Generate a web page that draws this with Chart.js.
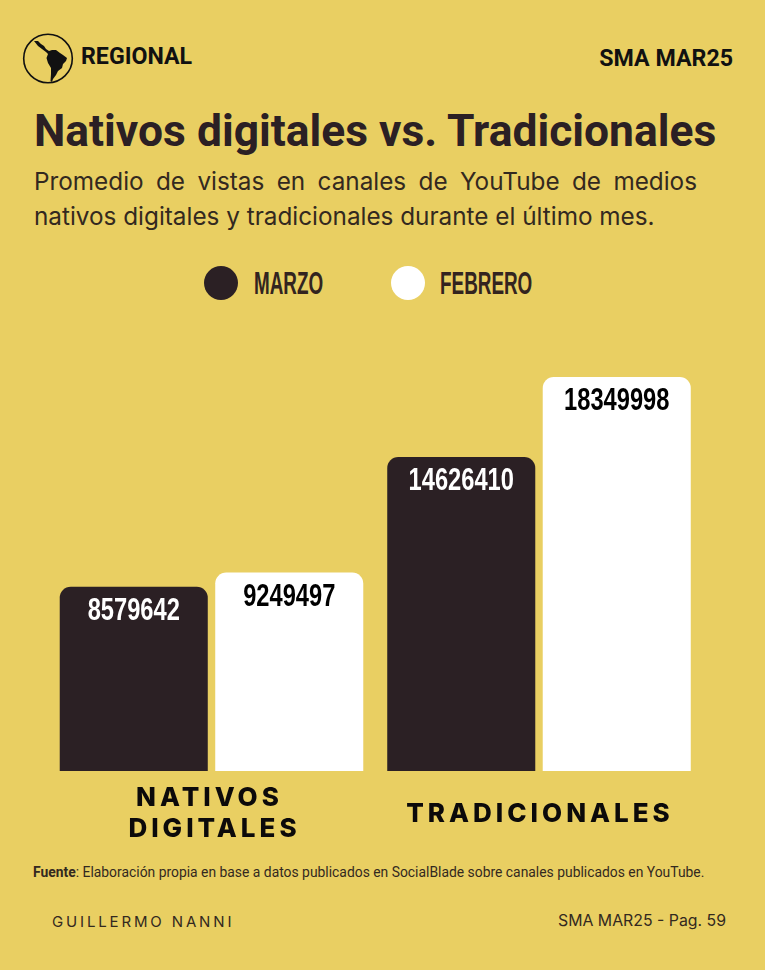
<!DOCTYPE html>
<html lang="es">
<head>
    <meta charset="UTF-8">
    <title>Nativos digitales vs. Tradicionales</title>
    <script src="https://cdn.jsdelivr.net/npm/chart.js"></script>
    <style>
        html, body { margin: 0; padding: 0; }
        body { width: 765px; height: 970px; background: #e9cf62; position: relative; overflow: hidden; color: #2b2024; font-family: Roboto, sans-serif; }
        .t { position: absolute; white-space: nowrap; line-height: 1; }
        #globo { position: absolute; left: 22px; top: 33px; }
        #region { left: 81px; top: 45px; font-size: 23.2px; font-weight: 700; color: #111; }
        #edicion { right: 32px; top: 47px; font-size: 23.2px; font-weight: 700; color: #111; }
        #titulo { left: 34px; top: 108.5px; font-size: 44.4px; font-weight: 700; }
        .sub { left: 34px; font-family: Inter, sans-serif; font-size: 24.3px; color: #33291f; }
        #sub1 { top: 169px; width: 663px; text-align: justify; text-align-last: justify; }
        #sub2 { top: 203.5px; }
        #leyenda .punto { position: absolute; top: 266px; width: 34px; height: 34px; border-radius: 50%; }
        #leyenda .nombre { position: absolute; top: 266px; font-family: "Liberation Sans", sans-serif; font-weight: 700; font-size: 32px; line-height: 34px; transform-origin: left center; transform: scaleX(0.59); white-space: nowrap; color: #33241f; }
        #grafico { position: absolute; left: 0; top: 300px; }
        #fuente { left: 33px; top: 866px; font-size: 13.88px; color: #33291f; }
        #autor { left: 52px; top: 914px; font-family: Inter, sans-serif; font-size: 15px; letter-spacing: 2.85px; color: #33291f; }
        #pagina { right: 39px; top: 913px; font-family: Inter, sans-serif; font-size: 15.85px; color: #33291f; }
    </style>
</head>
<body>
    <!-- globito de la seccion -->
    <svg id="globo" width="52" height="52" viewBox="22 33 52 52">
        <circle cx="48" cy="58.5" r="24.3" fill="none" stroke="#111" stroke-width="1.6"/>
        <path fill="#111" d="M34 41 L38 41 L41 44 L44 46 L46 49 L49 51 L52 50 L56 50 L60 53 L63 55 L67 58 L66 61 L63 64 L62 68 L58 71 L56 75 L53 79 L52 82 L50.5 81 L51 74 L51 68 L48 63 L46.5 58 L48 54 L46 52 L42 49 L38 46 Z"/>
    </svg>
    <div class="t" id="region">REGIONAL</div>
    <div class="t" id="edicion">SMA MAR25</div>
    <div class="t" id="titulo">Nativos digitales vs. Tradicionales</div>
    <div class="t sub" id="sub1">Promedio de vistas en canales de YouTube de medios</div>
    <div class="t sub" id="sub2">nativos digitales y tradicionales durante el último mes.</div>
    <div id="leyenda"></div>

    <canvas id="grafico" width="765" height="560"></canvas>

    <div class="t" id="fuente"><b>Fuente</b>: Elaboración propia en base a datos publicados en SocialBlade sobre canales publicados en YouTube.</div>
    <div class="t" id="autor">GUILLERMO NANNI</div>
    <div class="t" id="pagina">SMA MAR25 - Pag. 59</div>

    <script>
        // Datos del grafico
        const categorias = [["NATIVOS", "DIGITALES"], ["TRADICIONALES"]];
        const series = ["MARZO", "FEBRERO"];
        const marzo = [8579642, 14626410];
        const febrero = [9249497, 18349998];

        const colorOscuro = "#2b2024";
        const colorBlanco = "#ffffff";
        const escalaMax = 20000000;

        // Leyenda en HTML porque la letra va angosta
        const posLeyenda = [[204, 254], [391, 440]];
        const coloresLeyenda = [colorOscuro, colorBlanco];
        series.forEach((nombre, i) => {
            document.getElementById("leyenda").innerHTML +=
                `<div class="punto" style="left:${posLeyenda[i][0]}px;background:${coloresLeyenda[i]}"></div>` +
                `<div class="nombre" style="left:${posLeyenda[i][1]}px">${nombre}</div>`;
        });

        // Numeros dentro de las barras y nombres de categoria debajo
        const etiquetas = {
            id: "etiquetas",
            afterDatasetsDraw(chart) {
                const ctx = chart.ctx;
                chart.data.datasets.forEach((ds, d) => {
                    chart.getDatasetMeta(d).data.forEach((barra, i) => {
                        ctx.save();
                        ctx.translate(barra.x, barra.y + 24.5);
                        ctx.scale(0.74, 1);
                        ctx.font = "700 32px 'Liberation Sans'";
                        ctx.textAlign = "center";
                        ctx.textBaseline = "middle";
                        ctx.fillStyle = d === 0 ? "#ffffff" : "#000000";
                        ctx.fillText(String(ds.data[i]), 0, 0);
                        ctx.restore();
                    });
                });

                const x = chart.scales.x;
                categorias.forEach((lineas, i) => {
                    const cx = x.getPixelForValue(i);
                    const medio = 814 - 300;
                    lineas.forEach((linea, j) => {
                        // en el original la primera linea queda corrida a la izquierda
                        const corrimiento = lineas.length > 1 ? (j === 0 ? -2 : 3) : 1;
                        ctx.save();
                        ctx.font = "800 26px Inter";
                        ctx.letterSpacing = "4px";
                        ctx.textAlign = "center";
                        ctx.textBaseline = "middle";
                        ctx.fillStyle = "#0c0a0a";
                        ctx.fillText(linea, cx + corrimiento, medio + (j - (lineas.length - 1) / 2) * 31);
                        ctx.restore();
                    });
                });
            }
        };

        new Chart(document.getElementById("grafico").getContext("2d"), {
            type: "bar",
            data: {
                labels: categorias.map(c => c.join(" ")),
                datasets: [
                    { label: series[0], data: marzo, backgroundColor: colorOscuro },
                    { label: series[1], data: febrero, backgroundColor: colorBlanco }
                ]
            },
            options: {
                responsive: false,
                animation: false,
                layout: { padding: { left: 47.75, right: 62.25, top: 41.6, bottom: 89 } },
                categoryPercentage: 0.9496,
                barPercentage: 0.952,
                borderRadius: { topLeft: 11, topRight: 11, bottomLeft: 0, bottomRight: 0 },
                plugins: { legend: { display: false }, tooltip: { enabled: false } },
                scales: {
                    x: { display: false },
                    y: { display: false, min: 0, max: escalaMax }
                }
            },
            plugins: [etiquetas]
        });
    </script>
</body>
</html>
